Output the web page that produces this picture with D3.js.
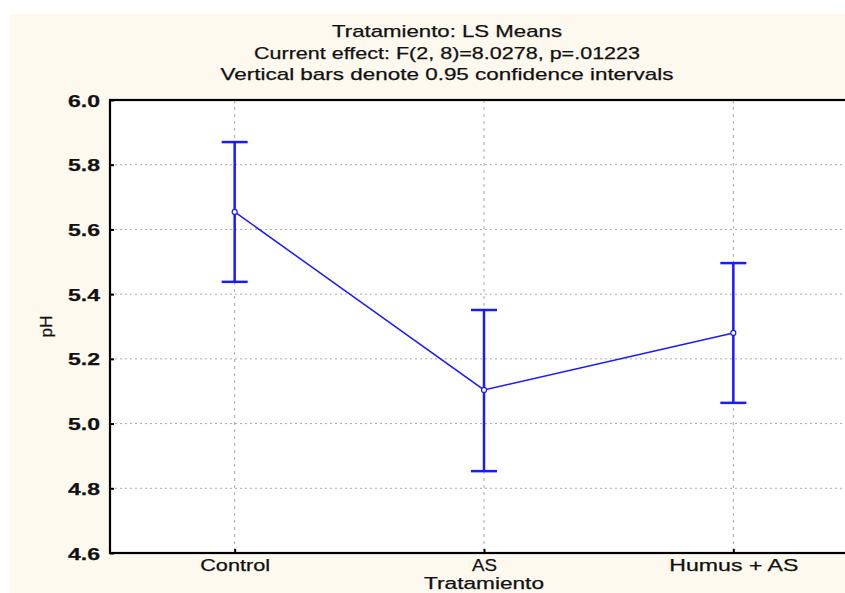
<!DOCTYPE html>
<html><head><meta charset="utf-8">
<script src="https://cdn.jsdelivr.net/npm/d3@7"></script>
<style>body{margin:0;background:#fff}svg{display:block}</style>
</head><body><svg id="c" width="845" height="593"></svg>
<script>
const categories = ["Control", "AS", "Humus + AS"];
const means = [5.654, 5.104, 5.28];
const lower = [5.438, 4.853, 5.064];
const upper = [5.87, 5.351, 5.496];
const yTicks = [4.6, 4.8, 5.0, 5.2, 5.4, 5.6, 5.8, 6.0];
const titleLines = ["Tratamiento: LS Means", "Current effect: F(2, 8)=8.0278, p=.01223", "Vertical bars denote 0.95 confidence intervals"];

const svg = d3.select("#c");
const W = 845, H = 593;
const m = {left: 110, top: 100, right: 858, bottom: 553};
svg.append("rect").attr("x", 10).attr("y", 14).attr("width", W).attr("height", H).attr("fill", "#fef9ef");

const x = d3.scalePoint().domain(categories).range([m.left, m.right]).padding(0.5);
const y = d3.scaleLinear().domain([4.6, 6.0]).range([m.bottom, m.top]);

svg.append("rect").attr("x", m.left).attr("y", m.top).attr("width", m.right - m.left).attr("height", m.bottom - m.top).attr("fill", "#fff");

const font = "Liberation Sans, Arial, sans-serif";
function styleText(sel, fs) {
  sel.attr("font-family", font).attr("font-size", fs).attr("fill", "#111")
    .attr("stroke", "#111").attr("stroke-width", 0.25).attr("lengthAdjust", "spacingAndGlyphs");
}
// grid
svg.append("g").selectAll("line").data(yTicks.slice(1, -1)).join("line")
  .attr("x1", m.left).attr("x2", m.right).attr("y1", d => y(d)).attr("y2", d => y(d))
  .attr("stroke", "#aaa").attr("stroke-width", 1).attr("stroke-dasharray", "2,3");
svg.append("g").selectAll("line").data(categories).join("line")
  .attr("x1", d => x(d)).attr("x2", d => x(d)).attr("y1", m.top).attr("y2", m.bottom)
  .attr("stroke", "#aaa").attr("stroke-width", 1).attr("stroke-dasharray", "3,4");

// axes
const yAxis = d3.axisLeft(y).tickValues(yTicks).tickFormat(d3.format(".1f")).tickSize(-4).tickPadding(10);
const gy = svg.append("g").attr("transform", `translate(${m.left},0)`).call(yAxis);
gy.select(".domain").remove();
gy.selectAll(".tick line").attr("stroke", "#000").attr("stroke-width", 2);
gy.selectAll("text").call(styleText, 17).attr("font-weight", "bold").attr("textLength", 32).attr("dy", "0.36em");

const xWidths = [70, 25, 129];
const xAxis = d3.axisBottom(x).tickSize(-4).tickPadding(6);
const gx = svg.append("g").attr("transform", `translate(0,${m.bottom})`).call(xAxis);
gx.select(".domain").remove();
gx.selectAll(".tick line").attr("stroke", "#000").attr("stroke-width", 2);
gx.selectAll("text").call(styleText, 17).attr("textLength", (d, i) => xWidths[i]);

// frame
svg.append("rect").attr("x", m.left).attr("y", m.top).attr("width", m.right - m.left).attr("height", m.bottom - m.top)
  .attr("fill", "none").attr("stroke", "#000").attr("stroke-width", 2.2);

// titles
const titleWidths = [230, 386, 453];
svg.append("g").selectAll("text").data(titleLines).join("text")
  .attr("x", 447).attr("y", (d, i) => 37 + i * 21.5).attr("text-anchor", "middle")
  .call(styleText, 17).attr("textLength", (d, i) => titleWidths[i]).text(d => d);
svg.append("text").attr("x", x("AS")).attr("y", 589).attr("text-anchor", "middle")
  .call(styleText, 16).attr("textLength", 120).text("Tratamiento");
svg.append("text").attr("transform", `translate(52,${y(5.3)}) rotate(-90)`).attr("text-anchor", "middle")
  .call(styleText, 17).attr("textLength", 22).text("pH");

// data
const blue = "#1a1aff";
const data = categories.map((c, i) => ({c, m: means[i], lo: lower[i], hi: upper[i]}));
svg.append("path").datum(data).attr("fill", "none").attr("stroke", blue).attr("stroke-width", 1.5)
  .attr("d", d3.line().x(d => x(d.c)).y(d => y(d.m)));
const eb = svg.append("g").selectAll("g").data(data).join("g");
eb.append("line").attr("x1", d => x(d.c)).attr("x2", d => x(d.c)).attr("y1", d => y(d.lo)).attr("y2", d => y(d.hi))
  .attr("stroke", blue).attr("stroke-width", 2.5);
eb.append("line").attr("x1", d => x(d.c) - 13).attr("x2", d => x(d.c) + 13).attr("y1", d => y(d.hi)).attr("y2", d => y(d.hi))
  .attr("stroke", blue).attr("stroke-width", 2.5);
eb.append("line").attr("x1", d => x(d.c) - 13).attr("x2", d => x(d.c) + 13).attr("y1", d => y(d.lo)).attr("y2", d => y(d.lo))
  .attr("stroke", blue).attr("stroke-width", 2.5);
eb.append("circle").attr("cx", d => x(d.c)).attr("cy", d => y(d.m)).attr("r", 2.5)
  .attr("fill", "#fff").attr("stroke", blue).attr("stroke-width", 1.2);
</script></body></html>
